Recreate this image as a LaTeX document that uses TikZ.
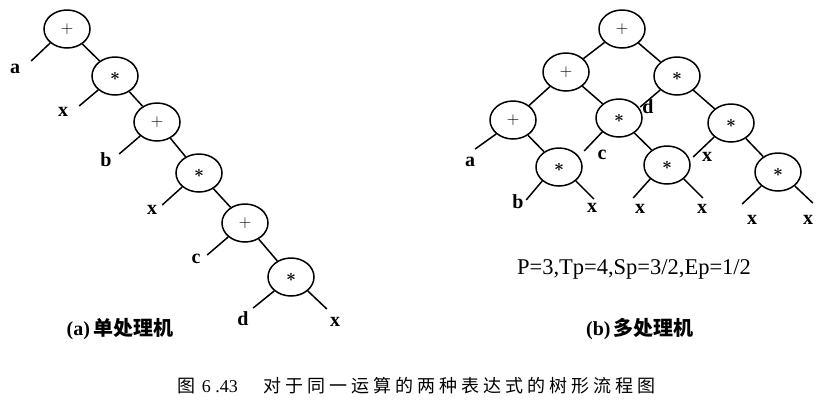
\documentclass[tikz,border=0pt]{standalone}
\usepackage{fontspec}
\setmainfont{Liberation Serif}
\newfontfamily\cjk{Noto Sans CJK SC}
\usetikzlibrary{shapes.geometric}

\begin{document}
\begin{tikzpicture}[
    x=1pt, y=-1pt, line width=1.5pt,
    op/.style={draw, ellipse, minimum width=46pt, minimum height=38pt, inner sep=0pt, font=\fontsize{19}{19}\selectfont\boldmath},
    opplus/.style={op, font=\fontsize{18}{18}\selectfont},
    leaf/.style={inner sep=0pt, font=\fontsize{20}{20}\selectfont\bfseries},
    title/.style={inner sep=0pt, font=\fontsize{20}{20}\selectfont\bfseries}
]
\useasboundingbox (0,0) rectangle (838,400);
% (a) single processor
\node (single_plus_1) [opplus] at (67,29) {$+$};
\node (single_times_1) [op] at (115,76) {$\ast$};
\node (single_plus_2) [opplus] at (157,122) {$+$};
\node (single_times_2) [op] at (199,173) {$\ast$};
\node (single_plus_3) [opplus] at (245,223) {$+$};
\node (single_times_3) [op] at (291,277) {$\ast$};
\draw (single_plus_1) -- (single_times_1);
\draw (single_times_1) -- (single_plus_2);
\draw (single_plus_2) -- (single_times_2);
\draw (single_times_2) -- (single_plus_3);
\draw (single_plus_3) -- (single_times_3);
\draw (single_plus_1.south west) -- ++(-19,18) coordinate (single_end_a);
\draw (single_times_1.south west) -- ++(-19,16) coordinate (single_end_x1);
\draw (single_plus_2.south west) -- ++(-21,18) coordinate (single_end_b);
\draw (single_times_2.south west) -- ++(-20,18) coordinate (single_end_x2);
\draw (single_plus_3.south west) -- ++(-21,18) coordinate (single_end_c);
\draw (single_times_3.south west) -- ++(-21,17) coordinate (single_end_d);
\draw (single_times_3.south east) -- ++(19,18) coordinate (single_end_x3);
\node (single_a) [leaf] at (15,69) {a};
\node (single_x1) [leaf] at (63,112) {x};
\node (single_b) [leaf] at (106,160) {b};
\node (single_x2) [leaf] at (152,210) {x};
\node (single_c) [leaf] at (196,259) {c};
\node (single_d) [leaf] at (243,319) {d};
\node (single_x3) [leaf] at (335,322) {x};
\node (single_title) [title] at (120,329) {(a)\,{\cjk 单处理机}};
% (b) multi processor
\node (multi_root) [opplus] at (622,29) {$+$};
\node (multi_plus_1) [opplus] at (566,72) {$+$};
\node (multi_times_1) [op] at (677,76) {$\ast$};
\node (multi_plus_2) [opplus] at (513,120) {$+$};
\node (multi_times_2) [op] at (619,118) {$\ast$};
\node (multi_times_3) [op] at (731,123) {$\ast$};
\node (multi_times_4) [op] at (559,167) {$\ast$};
\node (multi_times_5) [op] at (667,165) {$\ast$};
\node (multi_times_6) [op] at (778,172) {$\ast$};
\draw (multi_root) -- (multi_plus_1);
\draw (multi_root) -- (multi_times_1);
\draw (multi_plus_1) -- (multi_plus_2);
\draw (multi_plus_1) -- (multi_times_2);
\draw (multi_times_1) -- (multi_times_3);
\draw (multi_plus_2) -- (multi_times_4);
\draw (multi_times_2) -- (multi_times_5);
\draw (multi_times_3) -- (multi_times_6);
\draw (multi_plus_2.south west) -- ++(-21,15) coordinate (multi_end_a);
\draw (multi_times_4.south west) -- ++(-16,19) coordinate (multi_end_b);
\draw (multi_times_4.south east) -- ++(18,18) coordinate (multi_end_x1);
\draw (multi_times_2.south west) -- ++(-18,19) coordinate (multi_end_c);
\draw (multi_times_1.south west) -- ++(-20,17) coordinate (multi_end_d);
\draw (multi_times_5.south west) -- ++(-17,19) coordinate (multi_end_x2);
\draw (multi_times_5.south east) -- ++(19,19) coordinate (multi_end_x3);
\draw (multi_times_3.south west) -- ++(-21,20) coordinate (multi_end_x4);
\draw (multi_times_6.south west) -- ++(-19,18) coordinate (multi_end_x5);
\draw (multi_times_6.south east) -- ++(18,17) coordinate (multi_end_x6);
\node (multi_a) [leaf] at (470,162) {a};
\node (multi_b) [leaf] at (518,202) {b};
\node (multi_x1) [leaf] at (592,208) {x};
\node (multi_c) [leaf] at (602,155) {c};
\node (multi_d) [leaf] at (648,107) {d};
\node (multi_x2) [leaf] at (640,209) {x};
\node (multi_x3) [leaf] at (702,209) {x};
\node (multi_x4) [leaf] at (707,157) {x};
\node (multi_x5) [leaf] at (752,220) {x};
\node (multi_x6) [leaf] at (808,220) {x};
\node (multi_params) [inner sep=0pt, font=\fontsize{22.5}{22.5}\selectfont] at (634,269) {P=3,Tp=4,Sp=3/2,Ep=1/2};
\node (multi_title) [title] at (640,329) {(b)\,{\cjk 多处理机}};
% caption
\node (caption) [inner sep=0pt, anchor=west, font=\fontsize{18}{18}\selectfont] at (177,386) {{\cjk 图}\hspace{6pt}6\ .43\hspace{26pt}{\cjk\addfontfeatures{LetterSpace=22}对于同一运算的两种表达式的树形流程图}};
\end{tikzpicture}
\end{document}
